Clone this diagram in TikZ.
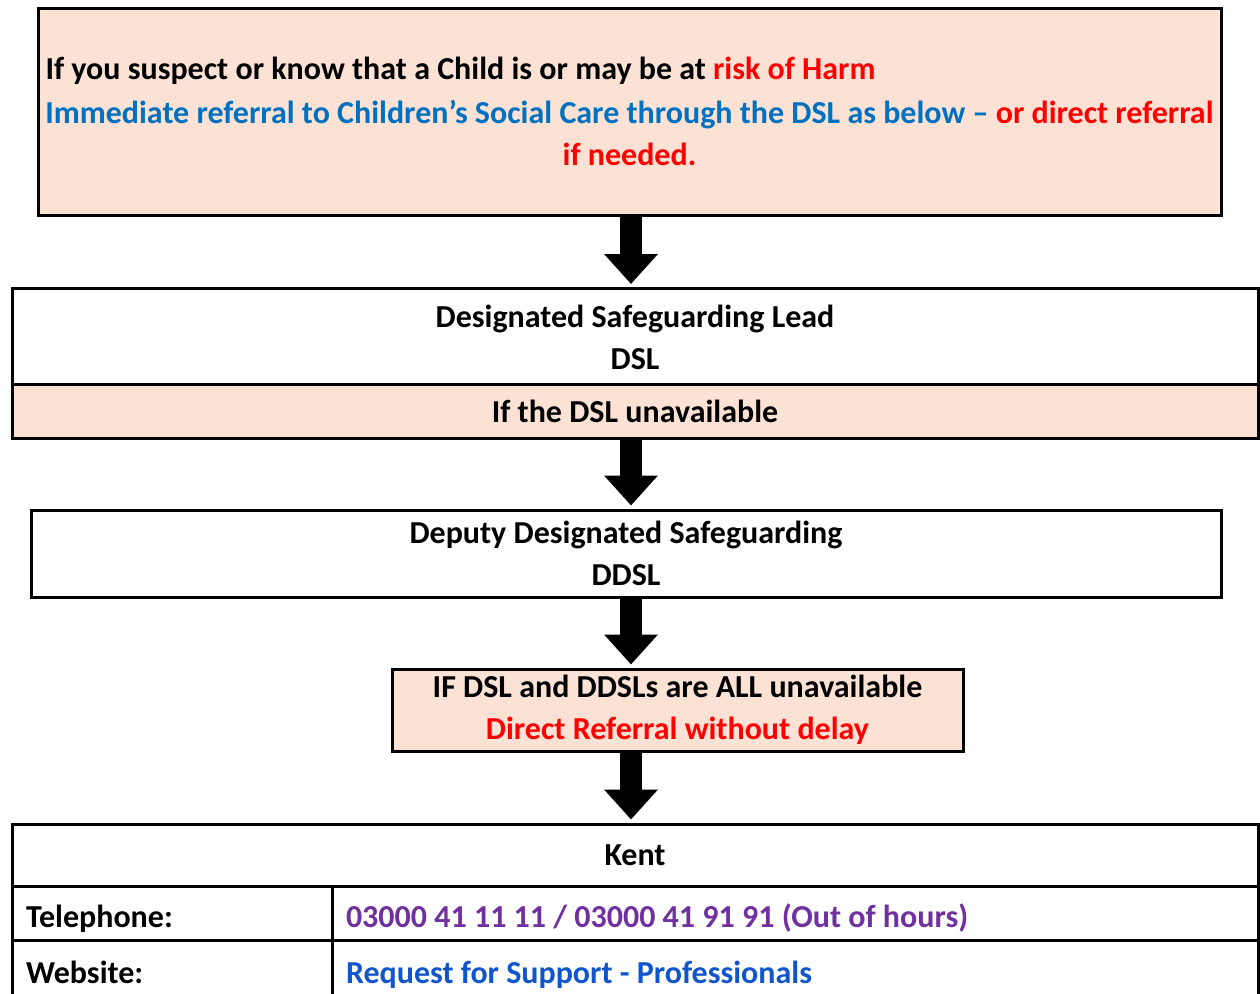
\documentclass[tikz,border=0pt]{standalone}
\usepackage{fontspec}
\setmainfont{Carlito}
\usetikzlibrary{arrows.meta}
\usepackage{xcolor}
\definecolor{peach}{HTML}{FBE2D5}
\definecolor{referblue}{HTML}{0070C0}
\definecolor{riskred}{HTML}{FF0000}
\definecolor{phonepurple}{HTML}{7030A0}
\definecolor{webblue}{HTML}{1155CC}

\begin{document}
\begin{tikzpicture}
	[x=1pt, y=-1pt, line width=3pt,
	font=\bfseries\fontsize{32}{42}\selectfont,
	box/.style = {
		draw, inner sep=0pt
	},
	shaded/.style = {
		box, fill=peach
	},
	cell/.style = {
		draw, inner xsep=14pt, inner ysep=0pt, align=flush left,
		text height=36pt, text depth=7pt
	},
	bigarrow/.style = {
		line width=22pt, shorten >=3pt,
		-{Triangle[width=52pt, length=30pt]}
	}]

	\useasboundingbox (0,0) rectangle (1260,993);

	%Draw nodes
	\node[shaded, minimum width=1183, minimum height=207] at (629.5,111.5) (harm) {};
	\node[anchor=west, inner sep=0pt] at (44,71) (harmtext)
		{If you suspect or know that a Child is or may be at \textcolor{riskred}{risk of Harm}};
	\node[align=center, inner sep=0pt] at (629.5,133) (refer)
		{\textcolor{referblue}{Immediate referral to Children’s Social Care through the DSL as below –}
		\textcolor{riskred}{or direct referral}\\\textcolor{riskred}{if needed.}};
	\node[box, minimum width=1246, minimum height=97, align=center] at (635,337) (dsl)
		{Designated Safeguarding Lead\\DSL};
	\node[shaded, minimum width=1246, minimum height=54] at (635,411) (nodsl)
		{If the DSL unavailable};
	\node[box, minimum width=1190, minimum height=87, align=center] at (626,553.5) (ddsl)
		{Deputy Designated Safeguarding\\DDSL};
	\node[shaded, minimum width=571, minimum height=82, align=center] at (677.5,710) (direct)
		{IF DSL and DDSLs are ALL unavailable\\\textcolor{riskred}{Direct Referral without delay}};
	\node[box, minimum width=1246, minimum height=62] at (635,855) (kent) {Kent};
	\node[cell, text width=292, minimum height=54] at (172,913) (tel) {Telephone:};
	\node[cell, text width=898, minimum height=54, text=phonepurple] at (795,913) (telno)
		{03000 41 11 11 / 03000 41 91 91 (Out of hours)};
	\node[cell, text width=292, minimum height=58] at (172,969) (web) {Website:};
	\node[cell, text width=898, minimum height=58, text=webblue] at (795,969) (weblink)
		{Request for Support - Professionals};
	\coordinate (axis) at (631,0);

	%Draw arrows
	\draw[bigarrow] (axis |- harm.south) -- (axis |- dsl.north);
	\draw[bigarrow] (axis |- nodsl.south) -- (axis |- ddsl.north);
	\draw[bigarrow] (axis |- ddsl.south) -- (axis |- direct.north);
	\draw[bigarrow] (axis |- direct.south) -- (axis |- kent.north);
\end{tikzpicture}
\end{document}
